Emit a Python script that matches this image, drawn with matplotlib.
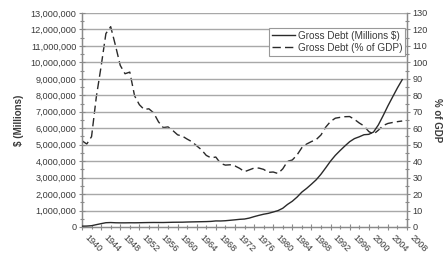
import matplotlib
matplotlib.use('Agg')
import matplotlib.pyplot as plt
from matplotlib.ticker import FuncFormatter, MultipleLocator
from matplotlib.transforms import ScaledTranslation

# Federal gross debt, fiscal years 1940-2007
years = list(range(1940, 2008))
debt_millions = [
    50696, 57531, 79200, 142648, 204079, 260123, 270991, 257149, 252031, 252610,
    256853, 255288, 259097, 265963, 270812, 274366, 272693, 272252, 279666, 287465,
    290525, 292648, 302928, 310324, 316059, 322318, 328498, 340445, 368685, 365769,
    380921, 408176, 435936, 466291, 483893, 541925, 628970, 706398, 776602, 829467,
    909041, 994828, 1137315, 1371660, 1564586, 1817423, 2120501, 2345956, 2601104, 2867800,
    3206290, 3598178, 4001787, 4351044, 4643307, 4920586, 5181465, 5369206, 5478189, 5605523,
    5628700, 5769881, 6198401, 6760014, 7354657, 7905300, 8451350, 8950744,
]
debt_pct_gdp = [
    52.4, 50.4, 54.9, 79.1, 97.6, 117.5, 121.7, 110.3, 98.2, 93.1,
    94.1, 79.7, 74.3, 71.4, 71.8, 69.3, 63.9, 60.4, 60.8, 58.6,
    56.0, 55.2, 53.4, 51.8, 49.3, 46.9, 43.5, 42.0, 42.5, 38.6,
    37.6, 37.8, 37.1, 35.6, 33.6, 34.7, 35.8, 35.8, 35.0, 33.2,
    33.4, 32.5, 35.3, 39.9, 40.7, 43.8, 48.2, 50.4, 51.9, 53.1,
    55.9, 60.7, 64.1, 66.1, 66.6, 67.0, 67.1, 65.4, 63.2, 61.4,
    58.0, 56.4, 58.8, 61.6, 62.9, 63.5, 64.0, 64.4,
]
tick_years = list(range(1940, 2009, 4))

plt.rcParams['font.family'] = ['Liberation Sans', 'DejaVu Sans']
txt = '#3a3a3a'
axis_col = '#8a8a8a'

fig = plt.figure(figsize=(4.43, 2.58), dpi=100)
ax = fig.add_axes([82 / 443, 1 - 227 / 258, 325 / 443, 214 / 258])
ax2 = ax.twinx()

# gridlines at each million
for v in range(1000000, 13000001, 1000000):
    ax.axhline(v, color='#a8a8a8', lw=1.0, zorder=0)

l1, = ax.plot(years, debt_millions, color='#2a2a2a', lw=1.0, label='Gross Debt (Millions $)', zorder=3)
l2, = ax2.plot(years, debt_pct_gdp, color='#2a2a2a', lw=1.0, ls=(0, (6, 3)), label='Gross Debt (% of GDP)', zorder=3)

ax.set_xlim(1940, 2008)
ax.set_ylim(0, 13000000)
ax2.set_ylim(0, 130)

ax.yaxis.set_major_locator(MultipleLocator(1000000))
ax.yaxis.set_minor_locator(MultipleLocator(500000))
ax.yaxis.set_major_formatter(FuncFormatter(lambda v, p: f"{int(v):,}"))
ax2.yaxis.set_major_locator(MultipleLocator(10))
ax2.yaxis.set_minor_locator(MultipleLocator(5))

ax.set_xticks(tick_years)
ax.set_xticks(range(1940, 2009, 2), minor=True)
ax.set_xticklabels([str(y) for y in tick_years], rotation=-45, ha='left', va='center',
                   rotation_mode='anchor')

for a in (ax, ax2):
    a.tick_params(axis='both', which='major', labelsize=6.6, labelcolor=txt, color=axis_col,
                  direction='inout', length=4, width=0.8, pad=2)
    a.tick_params(axis='both', which='minor', color=axis_col, direction='inout', length=2.5, width=0.8)
    for s in a.spines.values():
        s.set_color(axis_col)
        s.set_linewidth(0.9)
    a.spines['top'].set_visible(False)
ax.tick_params(axis='x', which='major', pad=5)
# nudge the slanted year labels a little to the right, like the original
for lab in ax.get_xticklabels():
    lab.set_transform(lab.get_transform() + ScaledTranslation(0.04, 0, fig.dpi_scale_trans))

ax.set_ylabel('$ (Millions)', fontsize=7, fontweight='bold', color=txt, labelpad=5)
ax2.set_ylabel('% of GDP', fontsize=7, fontweight='bold', color=txt, rotation=270, labelpad=10)

leg = ax.legend(handles=[l1, l2], loc='upper right', bbox_to_anchor=(0.995, 0.93), fontsize=7.2,
                frameon=True, fancybox=False, edgecolor='#999999', framealpha=1,
                handlelength=2.3, handletextpad=0.3, borderpad=0.3, labelspacing=0.2,
                borderaxespad=0.0)
leg.get_frame().set_linewidth(0.8)
for t in leg.get_texts():
    t.set_color(txt)
leg.set_zorder(5)
ax.set_zorder(ax2.get_zorder() + 1)
ax.patch.set_visible(False)

fig.savefig('out.png', dpi=100)
